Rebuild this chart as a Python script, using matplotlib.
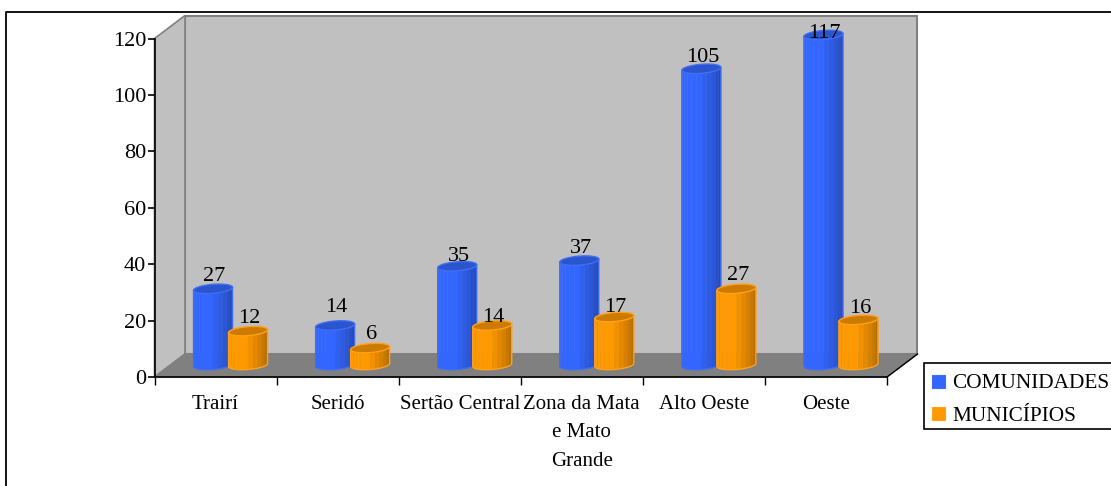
import numpy as np
import matplotlib
matplotlib.use('Agg')
import matplotlib.pyplot as plt
from matplotlib.patches import Polygon, Rectangle
from matplotlib.lines import Line2D

categories = ['Trairí', 'Seridó', 'Sertão Central', 'Zona da Mata\ne Mato\nGrande', 'Alto Oeste', 'Oeste']
comunidades = [27, 14, 35, 37, 105, 117]
municipios = [12, 6, 14, 17, 27, 16]
y_ticks = [0, 20, 40, 60, 80, 100, 120]

# gap between bar top and value label, in pixels
lift_com = [12, 18, 10, 12, 11, 1]
lift_mun = [13, 14, 8, 10, 13, 11]

W, H = 1111, 486
AX_L, AX_R, AX_TOP, AX_BOT = 154.5, 887, 38.5, 377
px_x = (AX_R - AX_L) / 6      # pixels per category
px_y = (AX_BOT - AX_TOP) / 120  # pixels per value unit

plt.rcParams['font.family'] = ['Liberation Serif', 'DejaVu Serif']

fig = plt.figure(figsize=(W / 100, H / 100), dpi=100)
ax = fig.add_axes([AX_L / W, 1 - AX_BOT / H, (AX_R - AX_L) / W, (AX_BOT - AX_TOP) / H])
ax.set_xlim(0, 6)
ax.set_ylim(0, 120)
ax.patch.set_alpha(0)


def dx(p):
    return p / px_x


def dy(p):
    return p / px_y


# outer frame, open on the right and at the bottom
fig.add_artist(Line2D([6 / W, 6 / W, 1], [0, 1 - 12 / H, 1 - 12 / H], color='black', lw=1.3))

# 3d box: back wall, side wall, floor
depth_x, depth_y = dx(30.5), dy(23)
wall = '#C0C0C0'
ax.add_patch(Polygon([(depth_x, depth_y), (6 + depth_x, depth_y), (6 + depth_x, 120 + depth_y), (depth_x, 120 + depth_y)],
                     fc=wall, ec='#808080', lw=1.5, clip_on=False, zorder=1))
ax.add_patch(Polygon([(0, 0), (depth_x, depth_y), (depth_x, 120 + depth_y), (0, 120)],
                     fc=wall, ec='#808080', lw=1.2, clip_on=False, zorder=1))
ax.add_patch(Polygon([(0, 0), (6, 0), (6 + depth_x, depth_y), (depth_x, depth_y)],
                     fc='#808080', ec='#808080', lw=1, clip_on=False, zorder=1.5))
ax.plot([6, 6 + depth_x], [0, depth_y], color='black', lw=1, clip_on=False, zorder=2)


def shade(rgb, f):
    return tuple(np.array(rgb) * f)


def cylinder(xc, value, body, edge, top, z):
    # oblique cylinder: front half cut into flat vertical facets, ellipse on top
    a, b, tilt = dx(19.5), dy(4.5), dy(1.5)
    base = dy(12)
    rgb = matplotlib.colors.to_rgb(body)
    t = np.linspace(np.pi, 2 * np.pi, 13)
    xs = xc + a * np.cos(t)
    ys = b * np.sin(t) + tilt * np.cos(t)
    for i in range(len(t) - 1):
        pos = i / (len(t) - 2)
        f = 1.0 if pos < 0.45 else 1.0 - 0.32 * (pos - 0.45) / 0.55
        pts = [(xs[i], base + ys[i]), (xs[i + 1], base + ys[i + 1]),
               (xs[i + 1], base + value + ys[i + 1]), (xs[i], base + value + ys[i])]
        ax.add_patch(Polygon(pts, fc=shade(rgb, f), ec=shade(rgb, f), lw=0.3, clip_on=False, zorder=z))
    tt = np.linspace(0, 2 * np.pi, 60)
    cap = np.column_stack([xc + a * np.cos(tt), base + value + b * np.sin(tt) + tilt * np.cos(tt)])
    ax.add_patch(Polygon(cap, fc=top, ec=edge, lw=1, clip_on=False, zorder=z + 0.1))
    outline = np.concatenate([[[xs[0], base + value + ys[0]]],
                              np.column_stack([xs, base + ys]),
                              [[xs[-1], base + value + ys[-1]]]])
    ax.plot(outline[:, 0], outline[:, 1], color=edge, lw=1, clip_on=False, zorder=z + 0.1)
    return base + value


blue, blue_edge, blue_top = '#3366FF', '#3F6DF5', '#2B55CC'
orange, orange_edge, orange_top = '#FF9900', '#FFA01A', '#CC7A00'

for i in range(len(categories)):
    xb = i + 0.5 - dx(2.5)
    xo = i + 0.5 + dx(32.5)
    top_b = cylinder(xb, comunidades[i], blue, blue_edge, blue_top, 3 + i)
    top_o = cylinder(xo, municipios[i], orange, orange_edge, orange_top, 3.5 + i)
    ax.annotate(str(comunidades[i]), (xb, top_b), xytext=(1, lift_com[i] * 0.72), textcoords='offset points',
                ha='center', va='center', fontsize=16, annotation_clip=False, zorder=20)
    ax.annotate(str(municipios[i]), (xo, top_o), xytext=(1, lift_mun[i] * 0.72), textcoords='offset points',
                ha='center', va='center', fontsize=16, annotation_clip=False, zorder=20)

# axes: spines over the box, ticks at category edges
for s in ['top', 'right']:
    ax.spines[s].set_visible(False)
for s in ['left', 'bottom']:
    ax.spines[s].set_zorder(2.5)
    ax.spines[s].set_linewidth(1.2)
ax.set_yticks(y_ticks)
ax.tick_params(axis='y', length=5, width=1.2, labelsize=16, pad=1)
ax.set_xticks(range(7))
ax.set_xticklabels([])
ax.tick_params(axis='x', length=6, width=1)
ax.set_xticks(np.arange(6) + 0.5, minor=True)
ax.set_xticklabels(categories, minor=True, fontsize=15, linespacing=1.67, va='top')
ax.tick_params(axis='x', which='minor', length=0, pad=13)

# legend box runs off the right edge
fig.add_artist(Rectangle((924 / W, 1 - 429 / H), 200 / W, 66 / H, fc='white', ec='black', lw=1.2,
                         transform=fig.transFigure))
for y_px, color, edge, name in [(382, blue, blue_edge, 'COMUNIDADES'), (414, orange, orange_edge, 'MUNICÍPIOS')]:
    fig.add_artist(Rectangle((932.5 / W, 1 - (y_px + 6) / H), 13 / W, 13 / H, fc=color, ec=edge, lw=0.8,
                             transform=fig.transFigure))
    fig.text(952 / W, 1 - (y_px + 2) / H, name, fontsize=15.3, va='center', ha='left')

plt.savefig('out.png', dpi=100)
